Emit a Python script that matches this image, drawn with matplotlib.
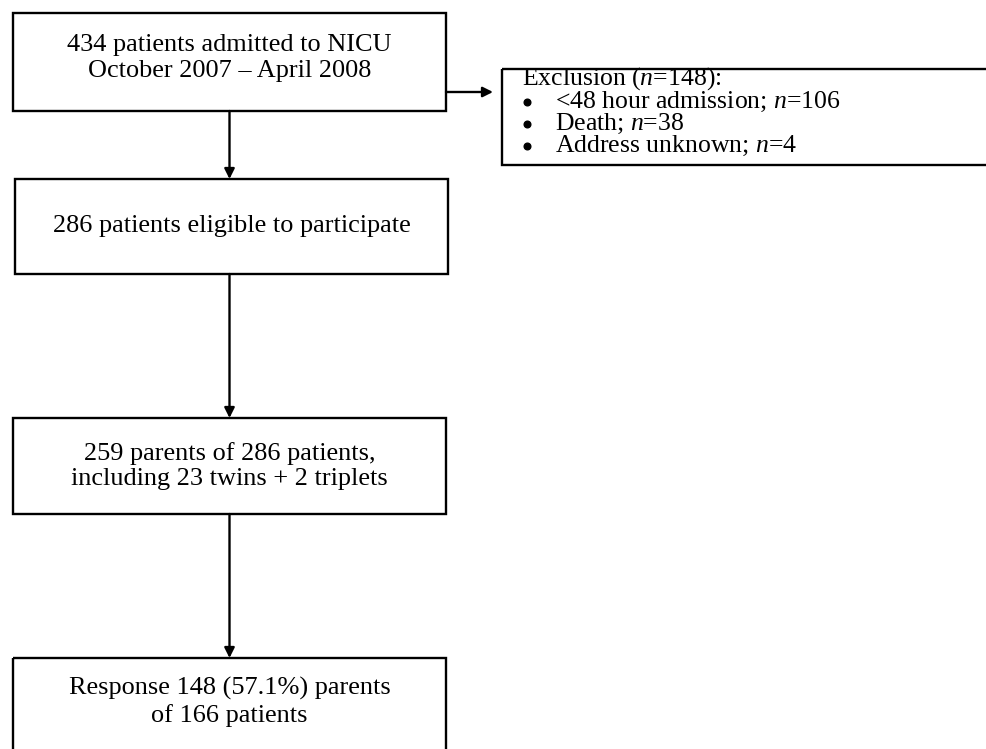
import matplotlib
matplotlib.use('Agg')
import matplotlib.pyplot as plt
from matplotlib.patches import Rectangle

plt.rcParams['font.family'] = ['Liberation Serif', 'DejaVu Serif']
plt.rcParams['mathtext.fontset'] = 'custom'
plt.rcParams['mathtext.rm'] = 'Liberation Serif'
plt.rcParams['mathtext.it'] = 'Liberation Serif:italic'

# textos del diagrama de flujo
textos_cajas = ['434 patients admitted to NICU\nOctober 2007 \u2013 April 2008',
                '286 patients eligible to participate',
                '259 parents of 286 patients,\nincluding 23 twins + 2 triplets',
                'Response 148 (57.1%) parents\nof 166 patients']
exclusion_total = 148
exclusion_motivos = ['<48 hour admission', 'Death', 'Address unknown']
exclusion_n = [106, 38, 4]

# cajas en pixeles: (izq, arriba, der, abajo)
cajas = [(13, 13, 446, 111),
         (15, 179, 448, 274),
         (13, 418, 446, 514),
         (13, 658, 446, 760)]
centros_texto = [58, 226, 466, 702]
caja_excl = (502, 69, 1000, 165)

fig = plt.figure(figsize=(9.87, 7.49), dpi=100)
ax = fig.add_axes([0, 0, 1, 1])
ax.set_xlim(0, 987)
ax.set_ylim(749, 0)
ax.axis('off')

lw = 1.7
fs = 18.9
fs_excl = 18.5

for (x0, y0, x1, y1), txt, yc in zip(cajas, textos_cajas, centros_texto):
    ax.add_patch(Rectangle((x0, y0), x1 - x0, y1 - y0, fill=False,
                           edgecolor='black', linewidth=lw))
    ax.text((x0 + x1) / 2, yc, txt, ha='center', va='center',
            fontsize=fs, linespacing=1.2)

# flechas verticales
xc = 229.5
for i in range(len(cajas) - 1):
    ax.annotate('', xy=(xc, cajas[i + 1][1]), xytext=(xc, cajas[i][3]),
                arrowprops=dict(arrowstyle='-|>', color='black', lw=lw,
                                mutation_scale=15, shrinkA=0, shrinkB=0))

# flecha hacia la caja de exclusion
ax.annotate('', xy=(493, 92), xytext=(446, 92),
            arrowprops=dict(arrowstyle='-|>', color='black', lw=lw,
                            mutation_scale=15, shrinkA=0, shrinkB=0))

x0, y0, x1, y1 = caja_excl
ax.add_patch(Rectangle((x0, y0), x1 - x0, y1 - y0, fill=False,
                       edgecolor='black', linewidth=lw))
ax.text(522, 79, 'Exclusion ($n$=%d):' % exclusion_total,
        ha='left', va='center', fontsize=fs_excl)
for k, (motivo, n) in enumerate(zip(exclusion_motivos, exclusion_n)):
    y = 102 + k * 22
    ax.plot(527, y, 'o', color='black', markersize=4.8)
    ax.text(555, y, '%s; $n$=%d' % (motivo, n), ha='left', va='center',
            fontsize=fs_excl)

plt.savefig('out.png', dpi=100)
